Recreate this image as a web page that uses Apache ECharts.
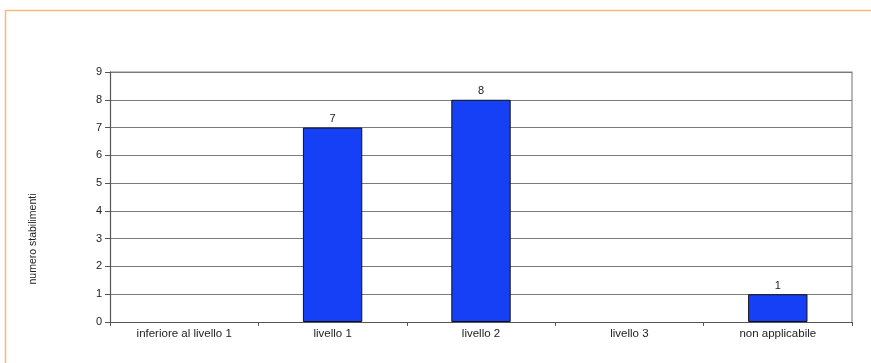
<!DOCTYPE html>
<html>
<head>
<meta charset="utf-8">
<script src="https://cdn.jsdelivr.net/npm/echarts@6/dist/echarts.min.js"></script>
<style>
  html, body { margin: 0; padding: 0; background: #fff; }
  #chart { width: 871px; height: 363px; }
</style>
</head>
<body>
<div id="chart"></div>
<script>
  var categories = ['inferiore al livello 1', 'livello 1', 'livello 2', 'livello 3', 'non applicabile']
  var values = [0, 7, 8, 0, 1]
  var yTicks = [0, 1, 2, 3, 4, 5, 6, 7, 8, 9]

  var myChart = echarts.init(document.getElementById('chart'))
  myChart.setOption({
    animation: false,
    textStyle: { fontFamily: 'Liberation Sans, Arial, sans-serif' },
    graphic: [
      // cornice arancione
      { type: 'line', shape: { x1: 5, y1: 10.5, x2: 871, y2: 10.5 }, style: { stroke: '#F7B97A', lineWidth: 1.5 } },
      { type: 'line', shape: { x1: 5.5, y1: 10, x2: 5.5, y2: 363 }, style: { stroke: '#F7B97A', lineWidth: 1.5 } },
      {
        type: 'text', x: 33, y: 239, rotation: Math.PI / 2,
        style: { text: 'numero stabilimenti', fontSize: 10.5, fill: '#222', align: 'center', verticalAlign: 'middle', fontFamily: 'Liberation Sans, Arial, sans-serif' }
      },
      // bordo destro e superiore dell'area
      { type: 'polyline', shape: { points: [[110, 72], [852, 72], [852, 322]] }, style: { stroke: '#888', lineWidth: 1.2, fill: null } }
    ],
    grid: { left: 110, right: 19, top: 72, bottom: 41 },
    xAxis: {
      type: 'category',
      data: categories,
      axisLine: { show: true, lineStyle: { color: '#555', width: 1.2 } },
      axisTick: { show: true, alignWithLabel: false, length: 4, lineStyle: { color: '#555' } },
      axisLabel: { color: '#222', fontSize: 11.5, margin: 6, interval: 0 }
    },
    yAxis: {
      type: 'value',
      min: yTicks[0],
      max: yTicks[yTicks.length - 1],
      interval: 1,
      axisLine: { show: true, lineStyle: { color: '#555', width: 1.2 } },
      axisTick: { show: true, length: 5, lineStyle: { color: '#555' } },
      axisLabel: { color: '#222', fontSize: 11, margin: 8 },
      splitLine: { show: true, lineStyle: { color: '#7a7a7a', width: 1 } }
    },
    series: [
      {
        type: 'bar',
        data: values.map(function (v) {
          return v > 0 ? v : { value: v, itemStyle: { borderWidth: 0, opacity: 0 } }
        }),
        barWidth: '40%',
        itemStyle: { color: '#1540F5', borderColor: '#111', borderWidth: 1 },
        label: {
          show: true, position: 'top', color: '#222', fontSize: 11, distance: 3,
          formatter: function (p) { return p.value > 0 ? p.value : '' }
        }
      }
    ]
  })
</script>
</body>
</html>
